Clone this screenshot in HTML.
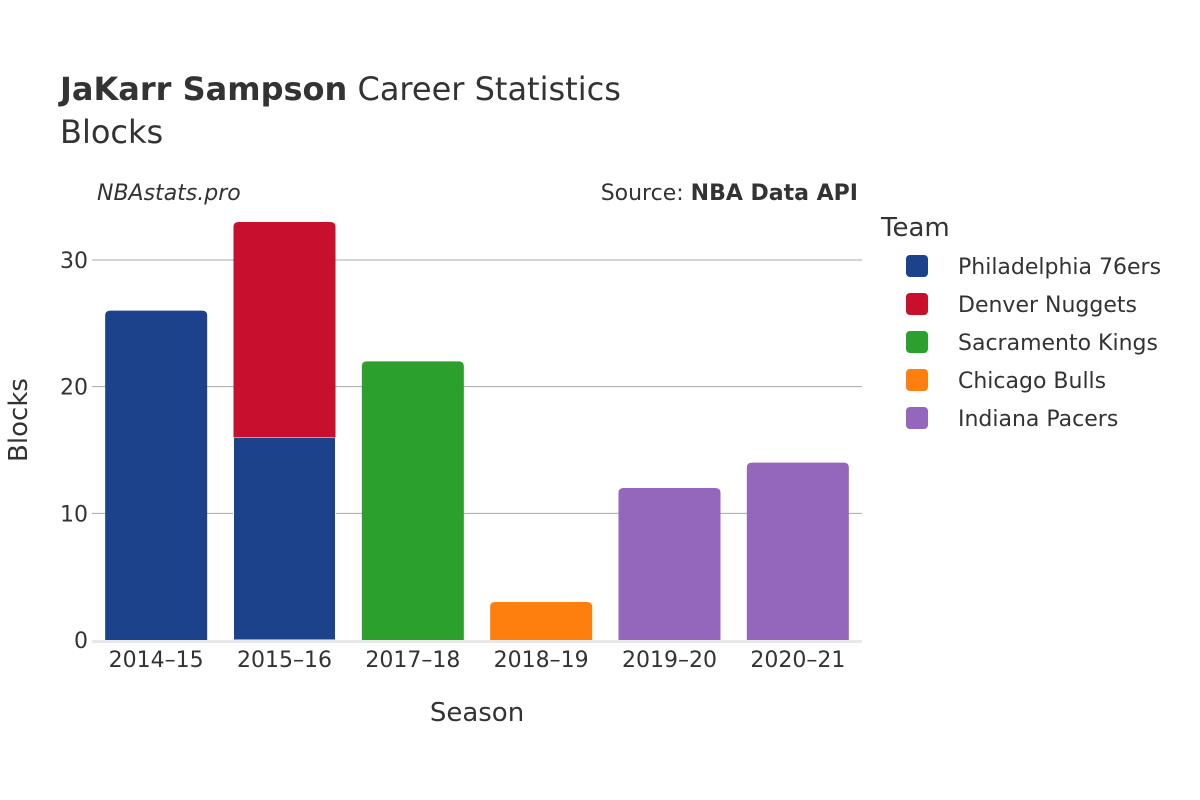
<!DOCTYPE html>
<html><head><meta charset="utf-8">
<style>
html,body{margin:0;padding:0;background:#fff;}
svg{display:block;font-family:"DejaVu Sans","Liberation Sans",sans-serif;}
</style></head>
<body>
<svg id="chart" width="1200" height="800" viewBox="0 0 1200 800">
<text x="60" y="100" font-size="32" fill="#333"><tspan font-weight="bold">JaKarr Sampson</tspan> Career Statistics</text>
<text x="60" y="143" font-size="32" fill="#333">Blocks</text>
<text x="97" y="200" font-size="22" font-style="italic" fill="#333">NBAstats.pro</text>
<text x="858" y="200" font-size="22" fill="#333" text-anchor="end">Source: <tspan font-weight="bold">NBA Data API</tspan></text>
<g id="grid"></g>
<g id="bars"></g>
<g id="xticks"></g>
<g id="yticks"></g>
<text x="477" y="721" font-size="26" fill="#333" text-anchor="middle">Season</text>
<text transform="translate(27,420) rotate(-90)" font-size="26" fill="#333" text-anchor="middle">Blocks</text>
<g id="legend">
<text x="881" y="236" font-size="26" fill="#333">Team</text>
</g>
</svg>
<script>
const seasons = ["2014–15","2015–16","2017–18","2018–19","2019–20","2020–21"];
const teams = ["Philadelphia 76ers","Denver Nuggets","Sacramento Kings","Chicago Bulls","Indiana Pacers"];
const colors = ["#1b428a","#c8102e","#2ca02c","#ff7f0e","#9467bd"];
const phi = [26,16,0,0,0,0];
const den = [0,17,0,0,0,0];
const sac = [0,0,22,0,0,0];
const chi = [0,0,0,3,0,0];
const ind = [0,0,0,0,12,14];
const series = [phi,den,sac,chi,ind];
const yTicks = [0,10,20,30];

const NS="http://www.w3.org/2000/svg";
const x0=92,x1=862,y0=640,pxPer=12.667;
const band=(x1-x0)/seasons.length, bw=band*0.795;
const y=v=>y0-v*pxPer;
const bx=i=>x0+band*i+(band-bw)/2;
function mk(tag,attrs,parent){const e=document.createElementNS(NS,tag);for(const k in attrs)e.setAttribute(k,attrs[k]);parent.appendChild(e);return e;}
const grid=document.getElementById('grid'),bars=document.getElementById('bars'),xt=document.getElementById('xticks'),yt=document.getElementById('yticks'),lg=document.getElementById('legend');
yTicks.forEach(t=>{
  if(t>0){const l=mk('line',{x1:x0,x2:x1,y1:y(t),y2:y(t),stroke:'#aaa','stroke-width':1},grid);
  
  }
  const tx=mk('text',{x:88,y:y(t)+8,'font-size':22,fill:'#333','text-anchor':'end'},yt);tx.textContent=t;
  
  
});
function topRounded(x,yt,w,h,r){r=Math.min(r,h);return `M${x},${yt+h}V${yt+r}Q${x},${yt} ${x+r},${yt}H${x+w-r}Q${x+w},${yt} ${x+w},${yt+r}V${yt+h}Z`;}
seasons.forEach((s,i)=>{
  let base=0;
  const tops=series.map(a=>a[i]);
  let last=-1;tops.forEach((v,k)=>{if(v>0)last=k;});
  series.forEach((a,k)=>{
    const v=a[i]; if(!v)return;
    const yt2=y(base+v), h=v*pxPer;
    const p=mk('path',{d:k===last?topRounded(bx(i),yt2,bw,h,5):`M${bx(i)},${yt2}h${bw}v${h}h${-bw}Z`,fill:colors[k],stroke:'#fff','stroke-width':k===last?0:1},bars);
    
    
    base+=v;
  });
  const tx=mk('text',{x:bx(i)+bw/2,y:667,'font-size':22,fill:'#333','text-anchor':'middle'},xt);tx.textContent=s;
  
  
});
const zl=mk('line',{x1:x0,x2:x1,y1:y0+1.5,y2:y0+1.5,stroke:'#e8e8e8','stroke-width':3},grid.parentNode);


teams.forEach((t,k)=>{
  const cy=266+k*38;
  const r=mk('rect',{x:906,y:cy-11,width:22,height:22,rx:4,fill:colors[k]},lg);
  
  
  const tx=mk('text',{x:958,y:cy+8,'font-size':22,fill:'#333'},lg);tx.textContent=t;
  
  
});
</script>
</body></html>
